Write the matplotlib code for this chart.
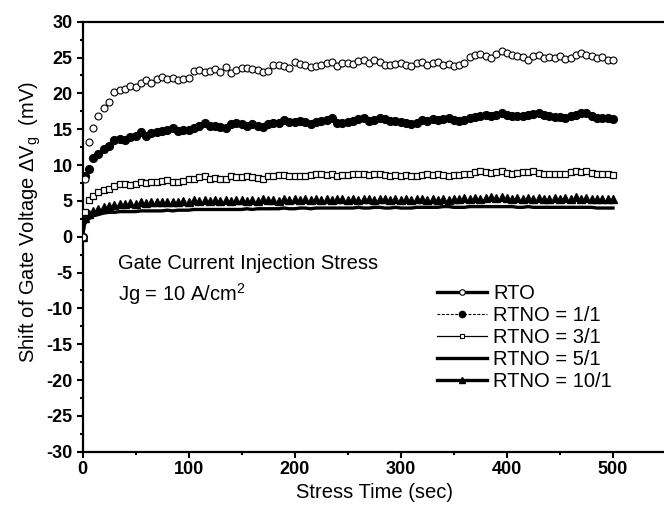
import numpy as np
import matplotlib
matplotlib.use("Agg")
import matplotlib.pyplot as plt
from matplotlib.lines import Line2D
from matplotlib.ticker import MultipleLocator, FuncFormatter

plt.rcParams['font.family'] = ['Liberation Sans', 'DejaVu Sans']
plt.rcParams['mathtext.fontset'] = 'custom'
plt.rcParams['mathtext.rm'] = 'Liberation Sans'
plt.rcParams['axes.unicode_minus'] = False

# ---- data ----
time = [0, 2, 6] + list(range(10, 505, 5))

rto = [0, 8.0, 13.2, 15.2, 16.8, 18.0, 18.8, 20.2, 20.4, 20.6, 21.0, 20.9, 21.5, 21.8, 21.4,
       22.0, 22.3, 22.0, 22.2, 21.9, 22.0, 22.1, 23.1, 23.2, 23.0, 23.1, 23.4, 23.0, 23.7,
       22.9, 23.2, 23.5, 23.6, 23.4, 23.2, 23.0, 23.1, 24.0, 24.0, 23.8, 23.6, 24.4, 24.1,
       23.9, 23.7, 23.8, 24.0, 24.3, 24.4, 23.8, 24.2, 24.3, 24.1, 24.5, 24.6, 24.2, 24.7,
       24.4, 24.0, 23.9, 24.1, 24.3, 24.0, 23.8, 24.2, 24.4, 23.9, 24.2, 24.4, 23.9, 24.1,
       23.8, 24.0, 24.2, 25.1, 25.4, 25.5, 25.2, 25.0, 25.5, 25.9, 25.7, 25.4, 25.2, 25.1,
       24.6, 25.2, 25.3, 25.0, 25.1, 24.9, 25.2, 24.8, 25.0, 25.3, 25.6, 25.4, 25.2, 25.0,
       25.1, 24.7, 24.7]

rtno_1_1 = [0, 8.5, 9.5, 11.0, 11.6, 12.2, 12.7, 13.5, 13.7, 13.5, 13.9, 14.1, 14.6, 14.1,
            14.4, 14.6, 14.8, 14.9, 15.1, 14.7, 14.9, 14.9, 15.1, 15.4, 15.9, 15.4, 15.5, 15.3,
            15.1, 15.7, 15.9, 15.7, 15.5, 15.7, 15.5, 15.3, 15.7, 15.8, 15.9, 16.3, 16.0, 16.0,
            16.1, 16.0, 15.7, 16.0, 16.1, 16.3, 16.5, 15.8, 15.9, 16.0, 16.2, 16.4, 16.5, 16.1,
            16.3, 16.5, 16.4, 16.2, 16.1, 16.0, 15.9, 15.7, 15.8, 16.3, 16.2, 16.4, 16.3, 16.4,
            16.5, 16.3, 16.2, 16.3, 16.5, 16.7, 16.9, 17.0, 16.8, 17.0, 17.2, 17.0, 16.9, 16.8,
            16.9, 17.0, 17.1, 17.3, 17.0, 16.9, 16.7, 16.7, 16.6, 16.8, 17.0, 17.2, 17.3, 16.8,
            16.5, 16.6, 16.5, 16.4]

rtno_3_1 = [0, 3.5, 5.1, 5.7, 6.2, 6.5, 6.7, 7.1, 7.3, 7.3, 7.2, 7.4, 7.7, 7.5, 7.6, 7.7,
            7.8, 7.9, 7.6, 7.7, 7.8, 8.0, 8.1, 8.3, 8.4, 8.1, 8.2, 8.0, 8.1, 8.5, 8.3, 8.3,
            8.4, 8.3, 8.2, 8.1, 8.4, 8.5, 8.6, 8.6, 8.5, 8.5, 8.4, 8.5, 8.6, 8.7, 8.7, 8.6,
            8.7, 8.5, 8.6, 8.6, 8.7, 8.8, 8.8, 8.6, 8.7, 8.8, 8.6, 8.5, 8.6, 8.5, 8.6, 8.4,
            8.5, 8.6, 8.7, 8.6, 8.7, 8.6, 8.5, 8.6, 8.6, 8.7, 8.8, 9.0, 9.1, 9.0, 8.9, 9.0,
            9.1, 8.9, 8.8, 8.9, 9.0, 9.0, 9.1, 8.9, 8.8, 8.7, 8.8, 8.7, 8.8, 9.0, 9.1, 9.0,
            9.2, 8.9, 8.8, 8.8, 8.7, 8.6]

rtno_5_1 = [0, 1.8, 2.5, 2.9, 3.1, 3.3, 3.4, 3.4, 3.5, 3.5, 3.5, 3.5, 3.6, 3.6, 3.6, 3.6,
            3.6, 3.7, 3.6, 3.7, 3.7, 3.7, 3.8, 3.8, 3.8, 3.8, 3.8, 3.8, 3.8, 3.8, 3.8, 3.8,
            3.9, 3.8, 3.9, 3.9, 3.9, 3.9, 3.9, 4.0, 3.9, 3.9, 4.0, 4.0, 3.9, 4.0, 4.0, 4.0,
            4.0, 4.0, 4.0, 4.0, 4.0, 4.1, 4.0, 4.0, 4.1, 4.1, 4.0, 4.0, 4.1, 4.0, 4.0, 4.0,
            4.1, 4.1, 4.1, 4.1, 4.1, 4.2, 4.2, 4.1, 4.1, 4.1, 4.2, 4.2, 4.2, 4.2, 4.2, 4.2,
            4.2, 4.2, 4.2, 4.1, 4.1, 4.2, 4.1, 4.1, 4.1, 4.1, 4.1, 4.1, 4.1, 4.1, 4.1, 4.1,
            4.1, 4.1, 4.0, 4.0, 4.0, 4.0]

rtno_10_1 = [0, 2.6, 3.2, 3.6, 3.9, 4.2, 4.3, 4.4, 4.5, 4.6, 4.7, 4.6, 4.8, 4.7, 4.8, 4.9,
             4.8, 4.9, 4.8, 4.9, 5.0, 4.9, 5.1, 5.0, 5.1, 5.0, 5.1, 5.0, 5.1, 5.0, 5.1, 5.1,
             5.0, 5.1, 5.0, 5.2, 5.1, 5.1, 5.0, 5.2, 5.1, 5.2, 5.1, 5.2, 5.1, 5.2, 5.1, 5.2,
             5.1, 5.2, 5.2, 5.1, 5.2, 5.1, 5.2, 5.2, 5.1, 5.2, 5.2, 5.1, 5.2, 5.1, 5.2, 5.1,
             5.2, 5.2, 5.1, 5.2, 5.1, 5.2, 5.1, 5.2, 5.2, 5.4, 5.3, 5.4, 5.3, 5.4, 5.5, 5.4,
             5.6, 5.4, 5.3, 5.4, 5.3, 5.4, 5.3, 5.4, 5.3, 5.3, 5.4, 5.3, 5.4, 5.3, 5.5, 5.3,
             5.4, 5.3, 5.3, 5.2, 5.3, 5.2]

labels = ['RTO', 'RTNO = 1/1', 'RTNO = 3/1', 'RTNO = 5/1', 'RTNO = 10/1']
x_ticks = [0, 100, 200, 300, 400, 500]
y_ticks = list(range(-30, 35, 5))

# ---- figure ----
fig = plt.figure(figsize=(6.64, 5.11), dpi=100)
ax = fig.add_axes([82.5 / 664, 59.3 / 511, 583.5 / 664, 430 / 511])

ax.plot(time, rtno_5_1, '-', color='black', lw=2.4, zorder=2)
ax.plot(time, rtno_10_1, linestyle='none', marker='^', ms=5.5, color='black', zorder=3)
ax.plot(time, rtno_3_1, linestyle='none', marker='s', ms=4.4, mfc='white', mec='black', mew=0.9, zorder=3)
ax.plot(time, rtno_1_1, linestyle='none', marker='o', ms=5.6, color='black', zorder=3)
ax.plot(time, rto, linestyle='none', marker='o', ms=5.0, mfc='white', mec='black', mew=0.8, zorder=3)

ax.set_xlim(0, 550)
ax.set_ylim(-30, 30)
ax.set_xticks(x_ticks)
ax.set_yticks(y_ticks)
ax.xaxis.set_minor_locator(MultipleLocator(50))
ax.yaxis.set_minor_locator(MultipleLocator(2.5))
ax.yaxis.set_major_formatter(FuncFormatter(lambda v, p: '%d' % v))
ax.tick_params(which='major', direction='out', length=4.5, width=1.5, labelsize=13, pad=2.5)
ax.tick_params(which='minor', direction='out', length=2.5, width=1.5)
for lab in ax.get_xticklabels() + ax.get_yticklabels():
    lab.set_fontweight('bold')
for s in ax.spines.values():
    s.set_linewidth(1.6)

ax.set_xlabel('Stress Time (sec)', fontsize=14.5, labelpad=3)
ax.set_ylabel('Shift of Gate Voltage \u0394V$_{\\mathrm{g}}$  (mV)', fontsize=14.5)
ax.yaxis.set_label_coords(-0.0677, 0.534)

ax.text(33.5, -4.5, 'Gate Current Injection Stress', fontsize=14.5, ha='left', va='baseline')
ax.text(33.5, -8.9, 'Jg = 10 A/cm$^{2}$', fontsize=14.5, ha='left', va='baseline')

handles = [
    Line2D([], [], color='black', lw=2.4, marker='o', ms=4, mfc='white', mec='black', mew=0.8),
    Line2D([], [], color='black', lw=0.8, ls=(0, (2.5, 1.5)), marker='o', ms=4.5),
    Line2D([], [], color='black', lw=0.9, marker='s', ms=3.5, mfc='white', mec='black', mew=0.8),
    Line2D([], [], color='black', lw=2.4),
    Line2D([], [], color='black', lw=2.4, marker='^', ms=4.5),
]
ax.legend(handles, labels, loc='upper left', bbox_to_anchor=(0.6075, 0.391), frameon=False,
          fontsize=14.5, handlelength=2.5, handletextpad=0.3, labelspacing=0.15,
          borderaxespad=0, borderpad=0)

fig.savefig('out.png', dpi=100)
